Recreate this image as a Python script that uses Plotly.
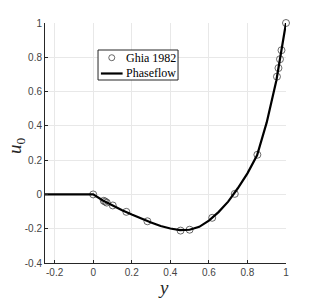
import plotly.graph_objects as go

# Ghia 1982 reference data
ghia_y = [1.0000, 0.9766, 0.9688, 0.9609, 0.9531, 0.8516, 0.7344, 0.6172, 0.5000,
          0.4531, 0.2813, 0.1719, 0.1016, 0.0703, 0.0625, 0.0547, 0.0000]
ghia_u = [1.0, 0.84123, 0.78871, 0.73722, 0.68717, 0.23151, 0.00332, -0.13641, -0.20581,
          -0.21090, -0.15662, -0.10150, -0.06434, -0.04775, -0.04192, -0.03717, 0.0]

# Phaseflow line
pf_y = [-0.25, 0.0, 0.05, 0.1, 0.15, 0.2, 0.25, 0.3, 0.35, 0.4, 0.45, 0.5, 0.55,
        0.6, 0.65, 0.7, 0.75, 0.8, 0.85, 0.9, 0.95, 1.0]
pf_u = [0.0, 0.0, -0.035, -0.064, -0.092, -0.117, -0.141, -0.164, -0.184, -0.199,
        -0.208, -0.206, -0.189, -0.153, -0.103, -0.042, 0.036, 0.123, 0.228, 0.42,
        0.665, 1.0]

x_ticks = [-0.2, 0, 0.2, 0.4, 0.6, 0.8, 1]
x_labels = ["-0.2", "0", "0.2", "0.4", "0.6", "0.8", "1"]
y_ticks = [-0.4, -0.2, 0, 0.2, 0.4, 0.6, 0.8, 1]
y_labels = ["-0.4", "-0.2", "0", "0.2", "0.4", "0.6", "0.8", "1"]

series_names = ["Ghia 1982", "Phaseflow"]

SERIF = "Liberation Serif, Times New Roman, serif"
INK = "#262626"

fig = go.Figure()
fig.add_trace(go.Scatter(x=ghia_y, y=ghia_u, mode="markers", name=series_names[0],
                         cliponaxis=False, showlegend=False,
                         marker=dict(symbol="circle-open", size=7,
                                     color="#444444", line=dict(width=0.8))))
fig.add_trace(go.Scatter(x=pf_y, y=pf_u, mode="lines", name=series_names[1],
                         cliponaxis=False, showlegend=False,
                         line=dict(color="black", width=2.2)))

axis_common = dict(showgrid=True, gridcolor="#e8e8e8", gridwidth=1,
                   showline=True, linecolor=INK, linewidth=1,
                   ticks="inside", ticklen=3, tickcolor=INK,
                   zeroline=False, mirror=False, automargin=False,
                   tickfont=dict(family="Liberation Sans, Arial", size=10, color="#444444"))

fig.update_xaxes(range=[-0.25, 1.0], tickvals=x_ticks, ticktext=x_labels, **axis_common)
fig.update_yaxes(range=[-0.4, 1.0], tickvals=y_ticks, ticktext=y_labels, **axis_common)

# Axis titles
fig.add_annotation(text="<i>y</i>", xref="paper", yref="paper", x=0.49, y=-0.10,
                   xanchor="center", yanchor="middle", showarrow=False,
                   font=dict(family=SERIF, size=19, color=INK))
fig.add_annotation(text="<i>u</i><sub>0</sub>", xref="paper", yref="paper", x=-0.118, y=0.49,
                   xanchor="center", yanchor="middle", showarrow=False, textangle=-90,
                   font=dict(family=SERIF, size=19, color=INK))

# Legend box (drawn manually to match the compact original)
fig.add_shape(type="rect", xref="paper", yref="paper", x0=0.220, x1=0.552, y0=0.7625, y1=0.8875,
              line=dict(color=INK, width=1), fillcolor="white", layer="above")
fig.add_shape(type="circle", xref="paper", yref="paper", xsizemode="pixel", ysizemode="pixel",
              xanchor=0.277, yanchor=0.8554, x0=-3, x1=3, y0=-3, y1=3,
              line=dict(color="#444444", width=0.8), layer="above")
fig.add_shape(type="line", xref="paper", yref="paper", x0=0.232, x1=0.322, y0=0.7896, y1=0.7896,
              line=dict(color="black", width=2.2), layer="above")
fig.add_annotation(text=series_names[0], xref="paper", yref="paper", x=0.327, y=0.8554,
                   xanchor="left", yanchor="middle", showarrow=False,
                   font=dict(family=SERIF, size=12, color="black"))
fig.add_annotation(text=series_names[1], xref="paper", yref="paper", x=0.327, y=0.7896,
                   xanchor="left", yanchor="middle", showarrow=False,
                   font=dict(family=SERIF, size=12, color="black"))

fig.update_layout(
    width=321, height=300,
    margin=dict(l=45, r=35, t=23, b=37),
    plot_bgcolor="white", paper_bgcolor="white",
    showlegend=False,
)

fig.write_html("out.html", config={"displayModeBar": False},
               post_script="document.body.style.margin='0';document.body.style.overflow='hidden';")
